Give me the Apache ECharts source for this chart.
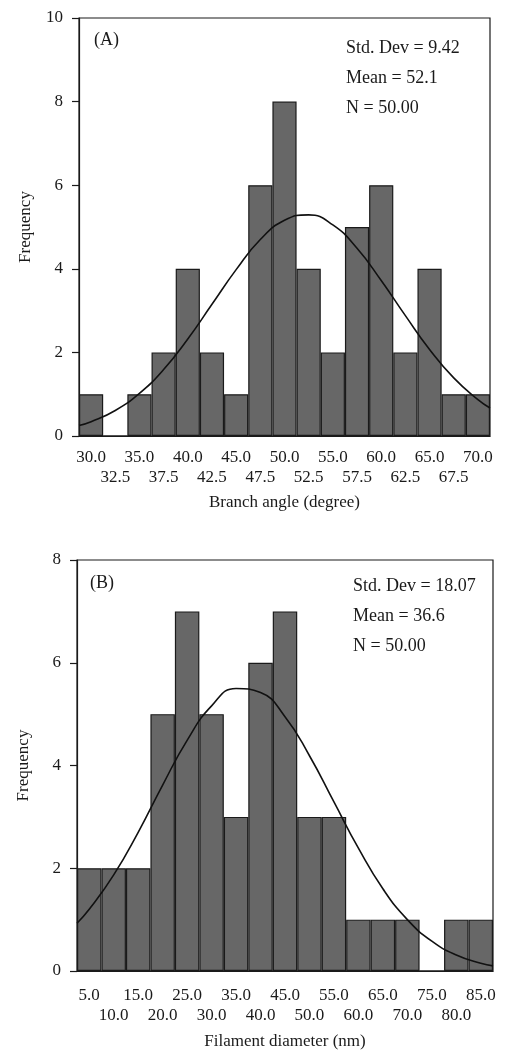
<!DOCTYPE html>
<html>
<head>
<meta charset="utf-8">
<script src="https://cdn.jsdelivr.net/npm/echarts@6/dist/echarts.min.js"></script>
<style>
  html, body { margin: 0; padding: 0; background: #fff; }
  #main { width: 508px; height: 1052px; }
</style>
</head>
<body>
<div id="main"></div>
<script>
  // (A) branch angle histogram
  var binsA = ['30.0', '32.5', '35.0', '37.5', '40.0', '42.5', '45.0', '47.5', '50.0',
    '52.5', '55.0', '57.5', '60.0', '62.5', '65.0', '67.5', '70.0']
  var countsA = [1, 0, 1, 2, 4, 2, 1, 6, 8, 4, 2, 5, 6, 2, 4, 1, 1]
  var curveXA = [28.75, 30, 32.5, 35, 37.5, 40, 42.5, 45, 47.5, 50, 52.5, 55, 57.5, 60, 62.5, 65, 67.5, 70, 71.25]
  var curveYA = [0.25, 0.34, 0.61, 1.02, 1.59, 2.32, 3.15, 3.98, 4.70, 5.16, 5.29, 5.05, 4.49, 3.72, 2.88, 2.07, 1.39, 0.87, 0.67]
  var statsA = ['Std. Dev = 9.42', 'Mean = 52.1', 'N = 50.00']

  // (B) filament diameter histogram
  var binsB = ['5.0', '10.0', '15.0', '20.0', '25.0', '30.0', '35.0', '40.0', '45.0',
    '50.0', '55.0', '60.0', '65.0', '70.0', '75.0', '80.0', '85.0']
  var countsB = [2, 2, 2, 5, 7, 5, 3, 6, 7, 3, 3, 1, 1, 1, 0, 1, 1]
  var curveXB = [2.5, 5, 10, 15, 20, 25, 30, 35, 40, 45, 50, 55, 60, 65, 70, 75, 80, 85, 87.5]
  var curveYB = [0.93, 1.20, 1.87, 2.70, 3.62, 4.49, 5.16, 5.50, 5.42, 4.95, 4.19, 3.29, 2.39, 1.60, 1.00, 0.58, 0.31, 0.15, 0.10]
  var statsB = ['Std. Dev = 18.07', 'Mean = 36.6', 'N = 50.00']

  var font = 'Liberation Serif'
  var ink = '#1a1a1a'

  function catAxis(grid, bins, name, margin, gap) {
    return {
      type: 'category',
      gridIndex: grid,
      data: bins,
      name: name,
      nameLocation: 'middle',
      nameGap: gap,
      nameTextStyle: {fontFamily: font, fontSize: 17, color: ink},
      axisLine: {lineStyle: {color: ink, width: 1.2}},
      axisTick: {alignWithLabel: true, length: 7, interval: 0, lineStyle: {color: ink, width: 1.2}},
      axisLabel: {
        interval: 0, margin: margin, fontFamily: font, fontSize: 17, color: ink, lineHeight: 20,
        formatter: function (v, i) { return i % 2 ? '\n' + v : v }
      }
    }
  }

  function valAxis(grid, min, max) {
    return {type: 'value', gridIndex: grid, min: min, max: max, show: false}
  }

  function freqAxis(grid, max) {
    return {
      type: 'value',
      gridIndex: grid,
      min: 0, max: max, interval: 2,
      name: 'Frequency',
      nameLocation: 'middle',
      nameGap: 45,
      nameTextStyle: {fontFamily: font, fontSize: 17, color: ink},
      splitLine: {show: false},
      axisLine: {show: true, lineStyle: {color: ink, width: 1.2}},
      axisTick: {show: true, length: 7, lineStyle: {color: ink, width: 1.2}},
      axisLabel: {margin: 16, fontFamily: font, fontSize: 17, color: ink}
    }
  }

  function pairs(xs, ys) {
    return xs.map(function (x, i) { return [x, ys[i]] })
  }

  function statTexts(x, y, lines, label, lx, ly) {
    var out = [{type: 'text', x: lx, y: ly, style: {text: label, font: '18px "' + font + '"', fill: ink, verticalAlign: 'middle'}}]
    lines.forEach(function (t, i) {
      out.push({type: 'text', x: x, y: y + i * 30, style: {text: t, font: '18px "' + font + '"', fill: ink, verticalAlign: 'middle'}})
    })
    return out
  }

  var barStyle = {color: '#676767', borderColor: ink, borderWidth: 1.2}
  var curveStyle = {color: '#111', width: 1.6}

  var chart = echarts.init(document.getElementById('main'))
  var option = {
    backgroundColor: '#fff',
    animation: false,
    grid: [
      {left: 79, right: 18, top: 18, height: 418, show: true, borderColor: ink, borderWidth: 1.2},
      {left: 77, right: 15, top: 560, height: 411, show: true, borderColor: ink, borderWidth: 1.2}
    ],
    xAxis: [
      catAxis(0, binsA, 'Branch angle (degree)', 12, 58),
      valAxis(0, 28.75, 71.25),
      catAxis(1, binsB, 'Filament diameter (nm)', 15, 62),
      valAxis(1, 2.5, 87.5)
    ],
    yAxis: [freqAxis(0, 10), freqAxis(1, 8)],
    series: [
      {type: 'bar', xAxisIndex: 0, yAxisIndex: 0, data: countsA, barCategoryGap: '0%', itemStyle: barStyle},
      {type: 'line', xAxisIndex: 1, yAxisIndex: 0, data: pairs(curveXA, curveYA), smooth: true,
        symbol: 'none', lineStyle: curveStyle, z: 5},
      {type: 'bar', xAxisIndex: 2, yAxisIndex: 1, data: countsB, barCategoryGap: '0%', itemStyle: barStyle},
      {type: 'line', xAxisIndex: 3, yAxisIndex: 1, data: pairs(curveXB, curveYB), smooth: true,
        symbol: 'none', lineStyle: curveStyle, z: 5}
    ],
    graphic: statTexts(346, 48, statsA, '(A)', 94, 40).concat(statTexts(353, 586, statsB, '(B)', 90, 583))
  }
  chart.setOption(option)
</script>
</body>
</html>
